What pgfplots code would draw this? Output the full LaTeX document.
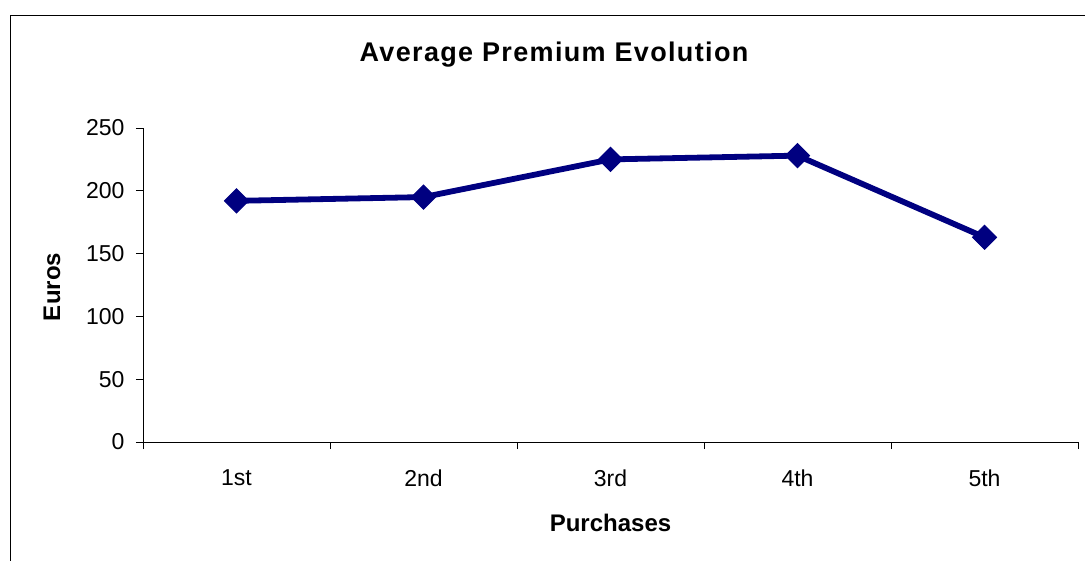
\documentclass[border=0pt]{standalone}
\usepackage{pgfplots}
\pgfplotsset{compat=1.18}
\usepackage{fontspec}
\setmainfont{Liberation Sans}
\definecolor{navyline}{RGB}{0,0,128}

\begin{document}
\begin{tikzpicture}[x=1pt,y=1pt]
  \useasboundingbox (0,0) rectangle (1085,560);
  \begin{scope}
    \clip (0,0) rectangle (1085,560);
    \draw[line width=1pt] (10.5,-10) rectangle (1098,544.7);
  \end{scope}
  \begin{axis}[
    at={(143pt,118pt)}, anchor=south west,
    scale only axis,
    width=935pt, height=314pt,
    xmin=-0.5, xmax=4.5,
    ymin=0, ymax=250,
    axis x line*=bottom,
    axis y line*=left,
    axis line style={line width=0.8pt, -},
    xtick={0,1,2,3,4},
    xticklabels={1st,2nd,3rd,4th,5th},
    major x tick style={draw=none},
    minor xtick={-0.5,0.5,1.5,2.5,3.5,4.5},
    minor x tick style={line width=0.8pt, black},
    minor tick length=7pt,
    ytick={0,50,100,150,200,250},
    major tick length=7pt,
    y tick style={line width=0.8pt, black},
    tick align=outside,
    xticklabel style={font=\fontsize{23}{26}\selectfont, yshift=-17pt},
    yticklabel style={font=\fontsize{23}{26}\selectfont, xshift=-8pt},
    /pgf/number format/assume math mode=true,
    clip=false,
  ]
    \addplot[color=navyline, line width=5.8pt,
      mark=square*, mark size=8.5pt,
      mark options={rotate=45, line width=1pt, fill=navyline, draw=navyline}]
      coordinates {(0,192) (1,195) (2,225) (3,228) (4,163)};
  \end{axis}
  \node[font=\fontsize{27}{31}\selectfont\bfseries\addfontfeatures{LetterSpace=5}, anchor=base] at (554,498) {Average Premium Evolution};
  \node[font=\fontsize{24}{28}\selectfont\bfseries, anchor=base] at (610.5,28) {Purchases};
  \node[font=\fontsize{24}{28}\selectfont\bfseries, rotate=90, anchor=base] at (60,273) {Euros};
\end{tikzpicture}
\end{document}
